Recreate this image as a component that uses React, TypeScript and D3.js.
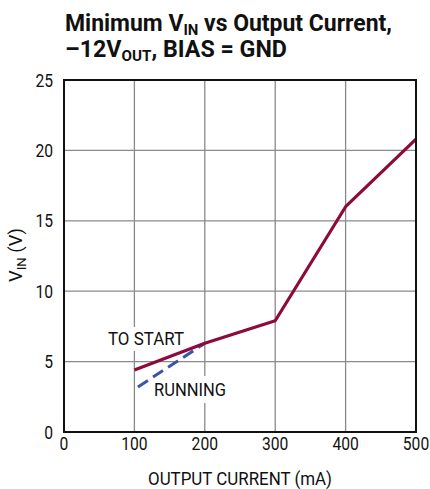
import React from 'react';
import * as d3 from 'd3';

// Values
const currentMA = [100, 200, 300, 400, 500];
const vinToStart = [4.4, 6.3, 7.9, 16.0, 20.8];
const runningCurrentMA = [105, 200];
const vinRunning = [3.2, 6.3];
const xTicks = [0, 100, 200, 300, 400, 500];
const yTicks = [0, 5, 10, 15, 20, 25];

const FONT = 'Roboto, "Liberation Sans", sans-serif';
const DIGIT_W = 8.8; // narrow glyph width used by the reference

const App = () => {
    const width = 430;
    const height = 489;
    const margin = { left: 64, top: 80, right: 14, bottom: 57 };
    const plotW = width - margin.left - margin.right;
    const plotH = height - margin.top - margin.bottom;

    // Scales for output current and input voltage
    const x = d3.scaleLinear().domain([0, 500]).range([margin.left, margin.left + plotW]);
    const y = d3.scaleLinear().domain([0, 25]).range([margin.top + plotH, margin.top]);

    const line = d3.line<[number, number]>().x(d => x(d[0])).y(d => y(d[1]));
    const startPts = currentMA.map((c, i) => [c, vinToStart[i]] as [number, number]);
    const runPts = runningCurrentMA.map((c, i) => [c, vinRunning[i]] as [number, number]);

    const common = { fontFamily: FONT, fill: '#111', lengthAdjust: 'spacingAndGlyphs' as const };

    return (
        <svg width={width} height={height} style={{ position: 'absolute', left: 0, top: 0 }}>
            <rect width={width} height={height} fill="white" />

            {/* Title */}
            <text x={65} y={31} {...common} fontWeight="bold" fontSize={23} textLength={327}>
                Minimum V<tspan fontSize={15} dy={4}>IN</tspan><tspan dy={-4}> vs Output Current,</tspan>
            </text>
            <text x={65} y={57} {...common} fontWeight="bold" fontSize={23} textLength={222}>
                –12V<tspan fontSize={15} dy={4}>OUT</tspan><tspan dy={-4}>, BIAS = GND</tspan>
            </text>

            {/* Grid */}
            {xTicks.slice(1, -1).map(t => (
                <line key={'gx' + t} x1={x(t)} x2={x(t)} y1={y(25)} y2={y(0)} stroke="#8a8a8a" strokeWidth={1.3} />
            ))}
            {yTicks.slice(1, -1).map(t => (
                <line key={'gy' + t} x1={x(0)} x2={x(500)} y1={y(t)} y2={y(t)} stroke="#8a8a8a" strokeWidth={1.3} />
            ))}

            {/* Label backgrounds hide the grid behind them */}
            <rect x={106} y={327} width={80} height={24} fill="white" />
            <rect x={152} y={376} width={76} height={27} fill="white" />

            {/* Curves */}
            <path d={line(runPts) || ''} fill="none" stroke="#3b56a6" strokeWidth={3} strokeDasharray="12,6" />
            <path d={line(startPts) || ''} fill="none" stroke="#8c0b3b" strokeWidth={3.2} strokeLinejoin="round" />

            {/* Frame */}
            <rect x={x(0)} y={y(25)} width={plotW} height={plotH} fill="none" stroke="#111" strokeWidth={2} />

            {/* Curve labels */}
            <text x={108} y={345} {...common} fontSize={18} textLength={76}>TO START</text>
            <text x={154} y={396} {...common} fontSize={18} textLength={72}>RUNNING</text>

            {/* Tick labels */}
            {xTicks.map(t => {
                const w = String(t).length * DIGIT_W;
                return (
                    <text key={'tx' + t} x={x(t) - w / 2} y={450} {...common} fontSize={18} textLength={w}>{t}</text>
                );
            })}
            {yTicks.map(t => {
                const w = String(t).length * DIGIT_W;
                return (
                    <text key={'ty' + t} x={53 - w} y={y(t) + 6.5} {...common} fontSize={18} textLength={w}>{t}</text>
                );
            })}

            {/* Axis titles */}
            <text x={148} y={485} {...common} fontSize={18} textLength={184}>OUTPUT CURRENT (mA)</text>
            <text transform={`translate(22,282) rotate(-90)`} {...common} fontSize={18} textLength={54}>
                V<tspan fontSize={13} dy={4}>IN</tspan><tspan dy={-4}> (V)</tspan>
            </text>
        </svg>
    );
};

export default App;
